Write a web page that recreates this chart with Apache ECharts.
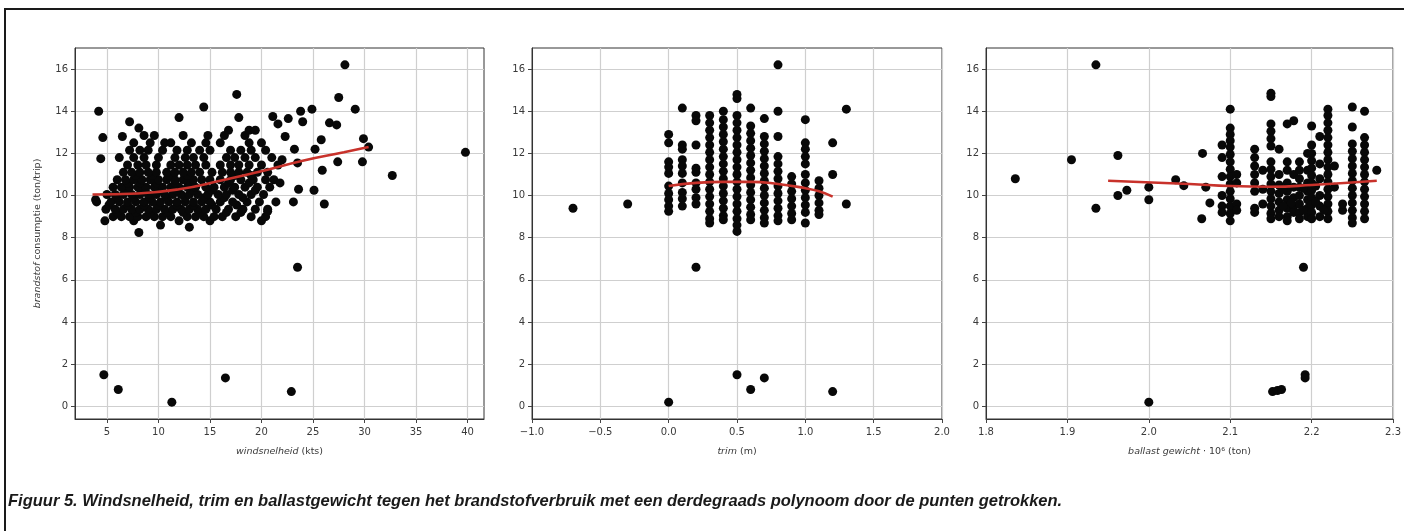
<!DOCTYPE html>
<html><head><meta charset="utf-8">
<script src="https://cdn.jsdelivr.net/npm/echarts@6/dist/echarts.min.js"></script>
<style>html,body{margin:0;padding:0;background:#fff}#c{width:1404px;height:531px}</style>
</head><body><div id="c"></div>
<script>
// ---------- Panel 1: windsnelheid (kts) vs brandstof consumptie ----------
const windRowY = [8.8, 9.0, 9.2, 9.35, 9.55, 9.7, 9.9, 10.05, 10.25, 10.4, 10.6, 10.75, 10.95, 11.1, 11.45, 11.8, 12.15, 12.5, 12.85, 13.1];
const windRowX = [
  [4.8, 7.6, 12.0, 15.0, 20.0],
  [5.6, 6.4, 7.2, 8.0, 8.8, 9.6, 10.4, 11.2, 12.8, 13.6, 14.4, 15.4, 16.2, 17.5, 19.0, 20.4],
  [6.0, 7.8, 9.2, 10.8, 12.4, 14.0, 16.6, 18.0],
  [4.9, 5.8, 6.6, 7.4, 8.2, 9.0, 9.8, 10.6, 11.4, 12.2, 13.0, 13.8, 14.6, 15.6, 16.8, 18.2, 19.4, 20.6],
  [5.2, 7.0, 8.6, 10.0, 11.8, 13.4, 15.2, 17.6],
  [4.0, 5.4, 6.2, 7.0, 7.8, 8.6, 9.4, 10.2, 11.0, 11.8, 12.6, 13.4, 14.2, 15.0, 16.0, 17.2, 18.6, 19.8, 21.4],
  [6.0, 7.6, 9.2, 10.8, 12.6, 14.4, 16.4, 18.2],
  [5.0, 5.8, 6.6, 7.4, 8.2, 9.0, 9.8, 10.6, 11.4, 12.2, 13.0, 13.8, 14.8, 15.8, 16.6, 17.8, 19.0, 20.2],
  [6.8, 8.6, 10.2, 11.8, 13.4, 15.2, 17.2, 19.4],
  [5.6, 6.4, 7.2, 8.0, 8.8, 9.6, 10.4, 11.2, 12.0, 12.8, 13.6, 14.6, 15.4, 16.4, 17.4, 18.4, 19.6, 20.8],
  [7.0, 8.2, 9.8, 11.6, 13.0, 16.8, 18.8],
  [6.0, 6.8, 7.6, 8.4, 9.2, 10.0, 10.8, 11.6, 12.4, 13.4, 14.2, 15.0, 16.0, 17.0, 18.0, 19.2, 20.4, 21.2],
  [7.8, 9.4, 11.0, 12.8, 17.4, 19.0],
  [6.6, 7.4, 8.2, 9.0, 9.8, 10.8, 11.6, 12.4, 13.2, 14.0, 15.2, 16.2, 17.0, 17.8, 18.6, 19.6, 20.6],
  [7.0, 8.0, 8.8, 9.8, 11.2, 12.0, 12.8, 13.6, 14.6, 16.0, 17.0, 17.8, 18.8, 20.0, 21.6],
  [6.2, 7.6, 8.6, 10.0, 11.6, 12.6, 13.4, 14.4, 16.6, 17.4, 18.4, 19.4, 21.0],
  [7.2, 8.2, 9.0, 10.4, 11.8, 12.8, 14.0, 15.0, 17.0, 18.0, 19.0, 20.4],
  [7.6, 9.2, 10.6, 11.2, 13.2, 14.6, 16.0, 18.8, 20.0],
  [8.6, 9.6, 12.4, 14.8, 16.4, 18.4],
  [16.8, 18.8, 19.4]
];
const windExtra = [
  [4.7,1.5],[6.1,0.8],[11.3,0.2],[16.5,1.35],[22.9,0.7],[23.5,6.6],[8.1,8.25],[10.2,8.6],[13.0,8.5],
  [4.2,14.0],[4.6,12.75],[4.4,11.75],[7.2,13.5],[8.1,13.2],[6.5,12.8],[12.0,13.7],[14.4,14.2],
  [17.6,14.8],[17.8,13.7],[28.1,16.2],[27.5,14.65],[29.1,14.1],[23.8,14.0],[24.9,14.1],[21.1,13.75],
  [22.6,13.65],[24.0,13.5],[26.6,13.45],[27.3,13.35],[21.6,13.4],[29.9,12.7],[30.4,12.3],[29.8,11.6],
  [27.4,11.6],[25.8,12.65],[25.9,11.2],[25.2,12.2],[32.7,10.95],[39.8,12.05],[23.2,12.2],[23.5,11.55],
  [23.6,10.3],[25.1,10.25],[23.1,9.7],[26.1,9.6],[22.3,12.8],[22.0,11.7],[20.6,9.25],[3.9,9.8],[21.8,10.6]
];
const windFit = [[3.6,10.05],[8,10.1],[12,10.3],[16,10.7],[20,11.15],[24,11.65],[28,12.05],[30.4,12.3]];

// ---------- Panel 2: trim (m) ----------
const trimCols = [0.0, 0.1, 0.2, 0.3, 0.4, 0.5, 0.6, 0.7, 0.8, 0.9, 1.0, 1.1, 1.2, 1.3];
const trimColY = [
  [12.9, 12.5, 11.6, 11.35, 11.05, 10.45, 10.1, 9.8, 9.5, 9.25, 0.2],
  [14.15, 12.4, 12.2, 11.7, 11.4, 11.05, 10.6, 10.15, 9.85, 9.5],
  [13.8, 13.55, 12.4, 11.3, 11.1, 10.6, 10.3, 9.9, 9.6, 6.6],
  [13.8, 13.45, 13.1, 12.75, 12.4, 12.05, 11.7, 11.35, 11.0, 10.65, 10.3, 9.95, 9.6, 9.25, 8.9, 8.7],
  [14.0, 13.6, 13.25, 12.9, 12.55, 12.2, 11.85, 11.5, 11.15, 10.8, 10.45, 10.1, 9.75, 9.4, 9.05, 8.85],
  [14.8, 14.6, 13.8, 13.45, 13.1, 12.75, 12.4, 12.05, 11.7, 11.35, 11.0, 10.65, 10.3, 9.95, 9.6, 9.25, 8.9, 8.6, 8.3, 1.5],
  [14.15, 13.3, 12.95, 12.6, 12.25, 11.9, 11.55, 11.2, 10.85, 10.5, 10.15, 9.8, 9.45, 9.1, 8.85, 0.8],
  [13.65, 12.8, 12.45, 12.1, 11.75, 11.4, 11.05, 10.7, 10.35, 10.0, 9.65, 9.3, 8.95, 8.7, 1.35],
  [16.2, 14.0, 12.8, 11.85, 11.5, 11.15, 10.8, 10.45, 10.1, 9.75, 9.4, 9.05, 8.8],
  [10.9, 10.55, 10.2, 9.85, 9.5, 9.15, 8.85],
  [13.6, 12.5, 12.2, 11.85, 11.5, 11.0, 10.6, 10.25, 9.9, 9.55, 9.2, 8.7],
  [10.7, 10.35, 10.0, 9.65, 9.3, 9.1],
  [12.5, 11.0, 0.7],
  [14.1, 9.6]
];
const trimExtra = [[-0.7, 9.4], [-0.3, 9.6]];
const trimFit = [[0.0,10.45],[0.2,10.6],[0.4,10.65],[0.6,10.65],[0.8,10.55],[1.0,10.35],[1.1,10.2],[1.2,9.95]];

// ---------- Panel 3: ballast gewicht ----------
const ballastCols = [2.09, 2.1, 2.108, 2.13, 2.14, 2.15, 2.16, 2.17, 2.178, 2.185, 2.195, 2.2, 2.21, 2.22, 2.228, 2.238, 2.25, 2.265, 2.28];
const ballastColY = [
  [12.4, 11.8, 10.9, 10.0, 9.5, 9.2],
  [14.1, 13.2, 12.9, 12.6, 12.3, 11.95, 11.6, 11.25, 10.9, 10.55, 10.2, 9.85, 9.5, 9.15, 8.8],
  [11.0, 10.6, 9.6, 9.3],
  [12.2, 11.8, 11.4, 11.0, 10.6, 10.2, 9.4, 9.2],
  [11.2, 10.3, 9.6],
  [14.85, 14.7, 13.4, 13.05, 12.7, 12.35, 11.6, 11.25, 10.9, 10.55, 10.2, 9.85, 9.5, 9.15, 8.9],
  [12.2, 11.0, 10.5, 10.1, 9.7, 9.3, 9.0],
  [13.4, 11.6, 11.2, 10.6, 10.2, 9.8, 9.4, 9.0, 8.8],
  [13.55, 11.0, 10.4, 9.9, 9.5, 9.2],
  [11.6, 11.2, 10.8, 10.4, 10.0, 9.6, 9.2, 8.9],
  [12.0, 11.2, 10.6, 10.2, 9.8, 9.4, 9.0],
  [13.3, 12.4, 12.0, 11.65, 11.3, 10.95, 10.6, 10.25, 9.9, 9.55, 9.2, 8.9],
  [12.8, 11.5, 10.8, 10.0, 9.5, 9.0],
  [14.1, 13.8, 13.45, 13.1, 12.75, 12.4, 12.05, 11.7, 11.35, 11.0, 10.65, 10.3, 9.95, 9.6, 9.25, 8.9],
  [11.4, 10.4],
  [9.3, 9.6],
  [14.2, 13.25, 12.45, 12.1, 11.75, 11.4, 11.05, 10.7, 10.35, 10.0, 9.65, 9.3, 8.95, 8.7],
  [14.0, 12.75, 12.4, 12.05, 11.7, 11.35, 11.0, 10.65, 10.3, 9.95, 9.6, 9.25, 8.9],
  [11.2]
];
const ballastExtra = [
  [1.836,10.8],[1.905,11.7],[1.935,16.2],[1.935,9.4],[1.962,11.9],[1.962,10.0],[1.973,10.25],
  [2.0,10.4],[2.0,9.8],[2.033,10.75],[2.043,10.47],[2.066,12.0],[2.065,8.9],[2.075,9.65],[2.07,10.4],
  [2.0,0.2],[2.152,0.7],[2.158,0.75],[2.163,0.8],[2.19,6.6],[2.192,1.5],[2.192,1.35],
  [2.165,9.5],[2.175,9.65],[2.19,9.3],[2.205,9.7],[2.215,9.3],[2.165,10.3],[2.19,10.35],[2.205,10.45]
];
const ballastFit = [[1.95,10.7],[2.05,10.55],[2.1,10.45],[2.15,10.42],[2.2,10.5],[2.28,10.7]];

// ---------- tick labels ----------
const yTicks = [0, 2, 4, 6, 8, 10, 12, 14, 16];
const windTicks = [5, 10, 15, 20, 25, 30, 35, 40];
const trimTicks = [-1.0, -0.5, 0.0, 0.5, 1.0, 1.5, 2.0];
const ballastTicks = [1.8, 1.9, 2.0, 2.1, 2.2, 2.3];

const caption = 'Figuur 5. Windsnelheid, trim en ballastgewicht tegen het brandstofverbruik met een derdegraads polynoom door de punten getrokken.';

// ---------- build ----------
function fromRows(rowsY, rowsX) {
  const out = [];
  rowsY.forEach((y, i) => rowsX[i].forEach(x => out.push([x, y])));
  return out;
}
function fromCols(cols, colsY) {
  const out = [];
  cols.forEach((x, i) => colsY[i].forEach(y => out.push([x, y])));
  return out;
}
const windData = fromRows(windRowY, windRowX).concat(windExtra);
const trimData = fromCols(trimCols, trimColY).concat(trimExtra);
const ballastData = fromCols(ballastCols, ballastColY).concat(ballastExtra);

const FONT = 'DejaVu Sans';
const TXT = '#3a3a3a';
const axisCommon = {
  axisLine: { show: true, onZero: false, lineStyle: { color: '#333', width: 1 } },
  splitLine: { show: true, lineStyle: { color: '#cfcfcf', width: 1.2 } },
  axisLabel: { color: TXT, fontSize: 10, fontFamily: FONT, margin: 8 },
  nameTextStyle: { color: TXT, fontSize: 9.5, fontFamily: FONT, rich: { i: { fontStyle: 'italic', color: TXT, fontSize: 9.5, fontFamily: FONT } } }
};
function xAxis(idx, min, max, ticks, name, fmt) {
  return Object.assign({}, JSON.parse(JSON.stringify(axisCommon)), {
    type: 'value', gridIndex: idx, min: min, max: max,
    name: name, nameLocation: 'middle', nameGap: 28,
    axisTick: { show: true, length: 4, lineStyle: { color: '#444' }, customValues: ticks },
    axisLabel: Object.assign({}, axisCommon.axisLabel, { customValues: ticks, formatter: fmt, showMinLabel: true, showMaxLabel: true })
  });
}
function yAxis(idx, name) {
  return Object.assign({}, JSON.parse(JSON.stringify(axisCommon)), {
    type: 'value', gridIndex: idx, min: -0.6, max: 17,
    name: name, nameLocation: 'middle', nameGap: 32,
    axisTick: { show: true, length: 4, lineStyle: { color: '#444' }, customValues: yTicks },
    axisLabel: Object.assign({}, axisCommon.axisLabel, { customValues: yTicks, formatter: v => String(v), margin: 7 })
  });
}
const gridStyle = { show: true, borderColor: '#333', borderWidth: 1, backgroundColor: 'transparent', containLabel: false };
const dot = { color: '#080808', opacity: 1 };
const red = { color: '#c8322b', width: 2.6 };
const option = {
  animation: false,
  backgroundColor: '#fff',
  grid: [
    Object.assign({ left: 75, top: 48, width: 409, height: 371 }, gridStyle),
    Object.assign({ left: 532, top: 48, width: 410, height: 371 }, gridStyle),
    Object.assign({ left: 986, top: 48, width: 409, height: 371 }, gridStyle)
  ],
  xAxis: [
    xAxis(0, 1.9, 41.6, windTicks, '{i|windsnelheid} (kts)', v => String(v)),
    xAxis(1, -1.0, 2.0, trimTicks, '{i|trim} (m)', v => (v < 0 ? '\u2212' : '') + Math.abs(v).toFixed(1)),
    xAxis(2, 1.8, 2.3, ballastTicks, '{i|ballast gewicht} \u00b7 10\u2076 (ton)', v => v.toFixed(1))
  ],
  yAxis: [
    yAxis(0, '{i|brandstof} consumptie (ton/trip)'),
    yAxis(1, ''),
    yAxis(2, '')
  ],
  series: [
    { type: 'scatter', xAxisIndex: 0, yAxisIndex: 0, data: windData, symbolSize: 9, itemStyle: dot },
    { type: 'scatter', xAxisIndex: 1, yAxisIndex: 1, data: trimData, symbolSize: 9, itemStyle: dot },
    { type: 'scatter', xAxisIndex: 2, yAxisIndex: 2, data: ballastData, symbolSize: 9, itemStyle: dot },
    { type: 'line', xAxisIndex: 0, yAxisIndex: 0, data: windFit, smooth: true, showSymbol: false, symbol: 'none', z: 5, lineStyle: red },
    { type: 'line', xAxisIndex: 1, yAxisIndex: 1, data: trimFit, smooth: true, showSymbol: false, symbol: 'none', z: 5, lineStyle: red },
    { type: 'line', xAxisIndex: 2, yAxisIndex: 2, data: ballastFit, smooth: true, showSymbol: false, symbol: 'none', z: 5, lineStyle: red }
  ],
  graphic: [
    { type: 'rect', shape: { x: 5, y: 9, width: 1430, height: 560 }, style: { fill: 'none', stroke: '#1a1a1a', lineWidth: 2 }, z: 100 },
    { type: 'text', left: 8, top: 493, style: { text: caption, font: 'italic bold 16.5px "Liberation Sans Narrow", "Liberation Sans", sans-serif', fill: '#1a1a1a' }, z: 100 }
  ]
};
const chart = echarts.init(document.getElementById('c'), null, { renderer: 'canvas' });
chart.setOption(option);
</script>
</body></html>
